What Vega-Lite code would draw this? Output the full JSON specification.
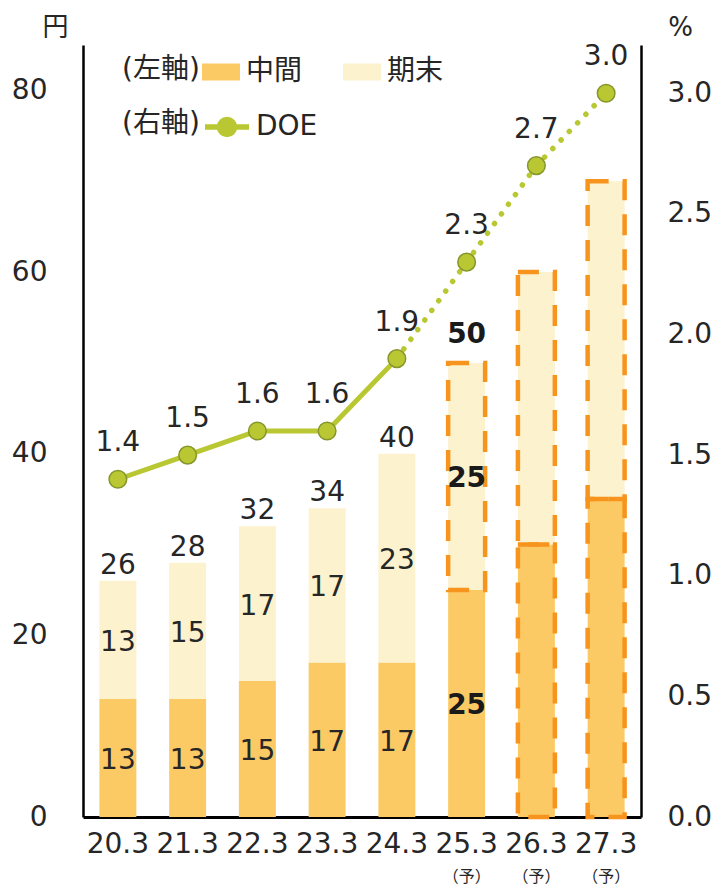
{
  "$schema": "https://vega.github.io/schema/vega-lite/v6.json",
  "width": 558,
  "height": 772,
  "autosize": {"type": "none"},
  "padding": {"left": 83, "top": 45, "right": 77, "bottom": 71},
  "config": {
    "font": "DejaVu Sans, Noto Sans CJK JP",
    "view": {"stroke": null},
    "text": {"color": "#262626", "fontSize": 28}
  },
  "datasets": {
    "bars": [
      {"cat": "20.3", "seg": "中間", "order": 1, "value": 13, "label": "13", "style": "normal", "outlined": false},
      {"cat": "20.3", "seg": "期末", "order": 2, "value": 13, "label": "13", "style": "normal", "outlined": false},
      {"cat": "21.3", "seg": "中間", "order": 1, "value": 13, "label": "13", "style": "normal", "outlined": false},
      {"cat": "21.3", "seg": "期末", "order": 2, "value": 15, "label": "15", "style": "normal", "outlined": false},
      {"cat": "22.3", "seg": "中間", "order": 1, "value": 15, "label": "15", "style": "normal", "outlined": false},
      {"cat": "22.3", "seg": "期末", "order": 2, "value": 17, "label": "17", "style": "normal", "outlined": false},
      {"cat": "23.3", "seg": "中間", "order": 1, "value": 17, "label": "17", "style": "normal", "outlined": false},
      {"cat": "23.3", "seg": "期末", "order": 2, "value": 17, "label": "17", "style": "normal", "outlined": false},
      {"cat": "24.3", "seg": "中間", "order": 1, "value": 17, "label": "17", "style": "normal", "outlined": false},
      {"cat": "24.3", "seg": "期末", "order": 2, "value": 23, "label": "23", "style": "normal", "outlined": false},
      {"cat": "25.3", "seg": "中間", "order": 1, "value": 25, "label": "25", "style": "bold", "outlined": false},
      {"cat": "25.3", "seg": "期末", "order": 2, "value": 25, "label": "25", "style": "bold", "outlined": true},
      {"cat": "26.3", "seg": "中間", "order": 1, "value": 30, "label": "", "style": "none", "outlined": true},
      {"cat": "26.3", "seg": "期末", "order": 2, "value": 30, "label": "", "style": "none", "outlined": true},
      {"cat": "27.3", "seg": "中間", "order": 1, "value": 35, "label": "", "style": "none", "outlined": true},
      {"cat": "27.3", "seg": "期末", "order": 2, "value": 35, "label": "", "style": "none", "outlined": true}
    ],
    "totals": [
      {"cat": "20.3", "total": 26, "style": "normal", "forecast": false},
      {"cat": "21.3", "total": 28, "style": "normal", "forecast": false},
      {"cat": "22.3", "total": 32, "style": "normal", "forecast": false},
      {"cat": "23.3", "total": 34, "style": "normal", "forecast": false},
      {"cat": "24.3", "total": 40, "style": "normal", "forecast": false},
      {"cat": "25.3", "total": 50, "style": "bold", "forecast": true},
      {"cat": "26.3", "total": 60, "style": "none", "forecast": true},
      {"cat": "27.3", "total": 70, "style": "none", "forecast": true}
    ],
    "doe": [
      {"cat": "20.3", "doe": 1.4, "actual": true, "forecastLine": false},
      {"cat": "21.3", "doe": 1.5, "actual": true, "forecastLine": false},
      {"cat": "22.3", "doe": 1.6, "actual": true, "forecastLine": false},
      {"cat": "23.3", "doe": 1.6, "actual": true, "forecastLine": false},
      {"cat": "24.3", "doe": 1.9, "actual": true, "forecastLine": true},
      {"cat": "25.3", "doe": 2.3, "actual": false, "forecastLine": true},
      {"cat": "26.3", "doe": 2.7, "actual": false, "forecastLine": true},
      {"cat": "27.3", "doe": 3.0, "actual": false, "forecastLine": true}
    ]
  },
  "encoding": {
    "x": {
      "field": "cat",
      "type": "ordinal",
      "scale": {"domain": ["20.3", "21.3", "22.3", "23.3", "24.3", "25.3", "26.3", "27.3"], "paddingInner": 0.47, "paddingOuter": 0.235},
      "axis": {"title": null, "labelAngle": 0, "labelFontSize": 28, "labelPadding": 13, "labelColor": "#262626", "ticks": false, "domainColor": "#000000", "domainWidth": 3, "grid": false}
    }
  },
  "layer": [
    {
      "layer": [
        {
          "data": {"name": "bars"},
          "transform": [{"stack": "value", "groupby": ["cat"], "sort": [{"field": "order", "order": "ascending"}], "as": ["v0", "v1"]}],
          "mark": {"type": "bar"},
          "encoding": {
            "y": {
              "field": "v0", "type": "quantitative",
              "scale": {"domain": [0, 85], "nice": false},
              "axis": {"title": "円", "titleAngle": 0, "titleX": -28, "titleY": -18, "titleAlign": "center", "titleBaseline": "middle", "titleFontSize": 26, "titleFontWeight": "normal", "titleColor": "#262626", "values": [0, 20, 40, 60, 80], "labelFontSize": 28, "labelPadding": 36, "labelColor": "#262626", "labelFlush": false, "ticks": false, "grid": false, "domainColor": "#000000", "domainWidth": 2.5}
            },
            "y2": {"field": "v1"},
            "color": {
              "field": "seg", "type": "nominal",
              "scale": {"domain": ["中間", "期末"], "range": ["#FCCA65", "#FCF2CE"]},
              "legend": {"title": "(左軸)", "titleOrient": "left", "orient": "none", "legendX": 39, "legendY": 8, "direction": "horizontal", "symbolType": "M-1,-0.45H1V0.45H-1Z", "symbolSize": 1444, "symbolStrokeWidth": 0, "labelFontSize": 28, "labelColor": "#262626", "labelOffset": 6, "columnPadding": 40, "titleFontSize": 28, "titleFontWeight": "normal", "titleColor": "#262626", "titlePadding": 2, "padding": 0}
            }
          }
        },
        {
          "data": {"name": "bars"},
          "transform": [
            {"stack": "value", "groupby": ["cat"], "sort": [{"field": "order", "order": "ascending"}], "as": ["v0", "v1"]},
            {"filter": "datum.outlined"}
          ],
          "mark": {"type": "bar", "fillOpacity": 0, "stroke": "#F7941D", "strokeWidth": 4.5, "strokeDash": [21, 14]},
          "encoding": {"y": {"field": "v0", "type": "quantitative"}, "y2": {"field": "v1"}}
        },
        {
          "data": {"name": "bars"},
          "transform": [
            {"stack": "value", "groupby": ["cat"], "sort": [{"field": "order", "order": "ascending"}], "as": ["v0", "v1"]},
            {"filter": "datum.style == 'normal'"},
            {"fold": ["v0", "v1"], "as": ["edgeName", "edge"]},
            {"aggregate": [{"op": "mean", "field": "edge", "as": "mid"}], "groupby": ["cat", "seg", "label"]}
          ],
          "mark": {"type": "text", "baseline": "middle", "fontSize": 28, "dy": 3},
          "encoding": {"y": {"field": "mid", "type": "quantitative"}, "text": {"field": "label"}}
        },
        {
          "data": {"name": "bars"},
          "transform": [
            {"stack": "value", "groupby": ["cat"], "sort": [{"field": "order", "order": "ascending"}], "as": ["v0", "v1"]},
            {"filter": "datum.style == 'bold'"},
            {"fold": ["v0", "v1"], "as": ["edgeName", "edge"]},
            {"aggregate": [{"op": "mean", "field": "edge", "as": "mid"}], "groupby": ["cat", "seg", "label"]}
          ],
          "mark": {"type": "text", "baseline": "middle", "fontSize": 28, "fontWeight": "bold", "color": "#1a1a1a", "dy": 3},
          "encoding": {"y": {"field": "mid", "type": "quantitative"}, "text": {"field": "label"}}
        },
        {
          "data": {"name": "totals"},
          "transform": [{"filter": "datum.style == 'normal'"}],
          "mark": {"type": "text", "baseline": "middle", "fontSize": 28, "dy": -15},
          "encoding": {"y": {"field": "total", "type": "quantitative"}, "text": {"field": "total"}}
        },
        {
          "data": {"name": "totals"},
          "transform": [{"filter": "datum.style == 'bold'"}],
          "mark": {"type": "text", "baseline": "middle", "fontSize": 28, "fontWeight": "bold", "color": "#1a1a1a", "dy": -28},
          "encoding": {"y": {"field": "total", "type": "quantitative"}, "text": {"field": "total"}}
        },
        {
          "data": {"name": "totals"},
          "transform": [{"filter": "datum.forecast"}],
          "mark": {"type": "text", "baseline": "middle", "fontSize": 16, "font": "Noto Sans CJK JP", "dy": 60},
          "encoding": {"y": {"datum": 0, "type": "quantitative"}, "text": {"value": "（予）"}}
        }
      ]
    },
    {
      "data": {"name": "doe"},
      "layer": [
        {
          "transform": [{"filter": "datum.actual"}],
          "mark": {"type": "line", "strokeWidth": 5},
          "encoding": {
            "y": {
              "field": "doe", "type": "quantitative",
              "scale": {"domain": [0, 3.2], "nice": false},
              "axis": {"orient": "right", "title": "%", "titleAngle": 0, "titleX": 39, "titleY": -18, "titleAlign": "center", "titleBaseline": "middle", "titleFontSize": 26, "titleFontWeight": "normal", "titleColor": "#262626", "values": [0, 0.5, 1, 1.5, 2, 2.5, 3], "format": ".1f", "labelFontSize": 28, "labelPadding": 26, "labelColor": "#262626", "labelFlush": false, "ticks": false, "grid": false, "domainColor": "#000000", "domainWidth": 2.5}
            },
            "stroke": {
              "datum": "DOE",
              "scale": {"range": ["#B9C832"]},
              "legend": {"title": "(右軸)", "titleOrient": "left", "orient": "none", "legendX": 39, "legendY": 57, "direction": "horizontal", "symbolType": "M-1,0H-0.34M0.34,0H1M-0.34,0A0.34,0.34 0 1,1 0.34,0A0.34,0.34 0 1,1 -0.34,0Z", "symbolSize": 1936, "symbolStrokeWidth": 5.5, "symbolFillColor": "#B9C832", "symbolStrokeColor": "#B9C832", "labelFontSize": 28, "labelColor": "#262626", "labelOffset": 4, "titleFontSize": 28, "titleFontWeight": "normal", "titleColor": "#262626", "titlePadding": 2, "padding": 0}
            }
          }
        },
        {
          "transform": [{"filter": "datum.forecastLine"}],
          "mark": {"type": "line", "stroke": "#B9C832", "strokeWidth": 5.5, "strokeDash": [0.1, 11.8], "strokeCap": "round"},
          "encoding": {"y": {"field": "doe", "type": "quantitative"}}
        },
        {
          "mark": {"type": "point", "filled": true, "size": 310, "fill": "#B9C832", "stroke": "#86962A", "strokeWidth": 1.5, "opacity": 1, "fillOpacity": 1},
          "encoding": {"y": {"field": "doe", "type": "quantitative"}}
        },
        {
          "mark": {"type": "text", "baseline": "middle", "fontSize": 28, "dy": -36},
          "encoding": {"y": {"field": "doe", "type": "quantitative"}, "text": {"field": "doe", "format": ".1f"}}
        }
      ]
    }
  ],
  "resolve": {"scale": {"y": "independent"}}
}
